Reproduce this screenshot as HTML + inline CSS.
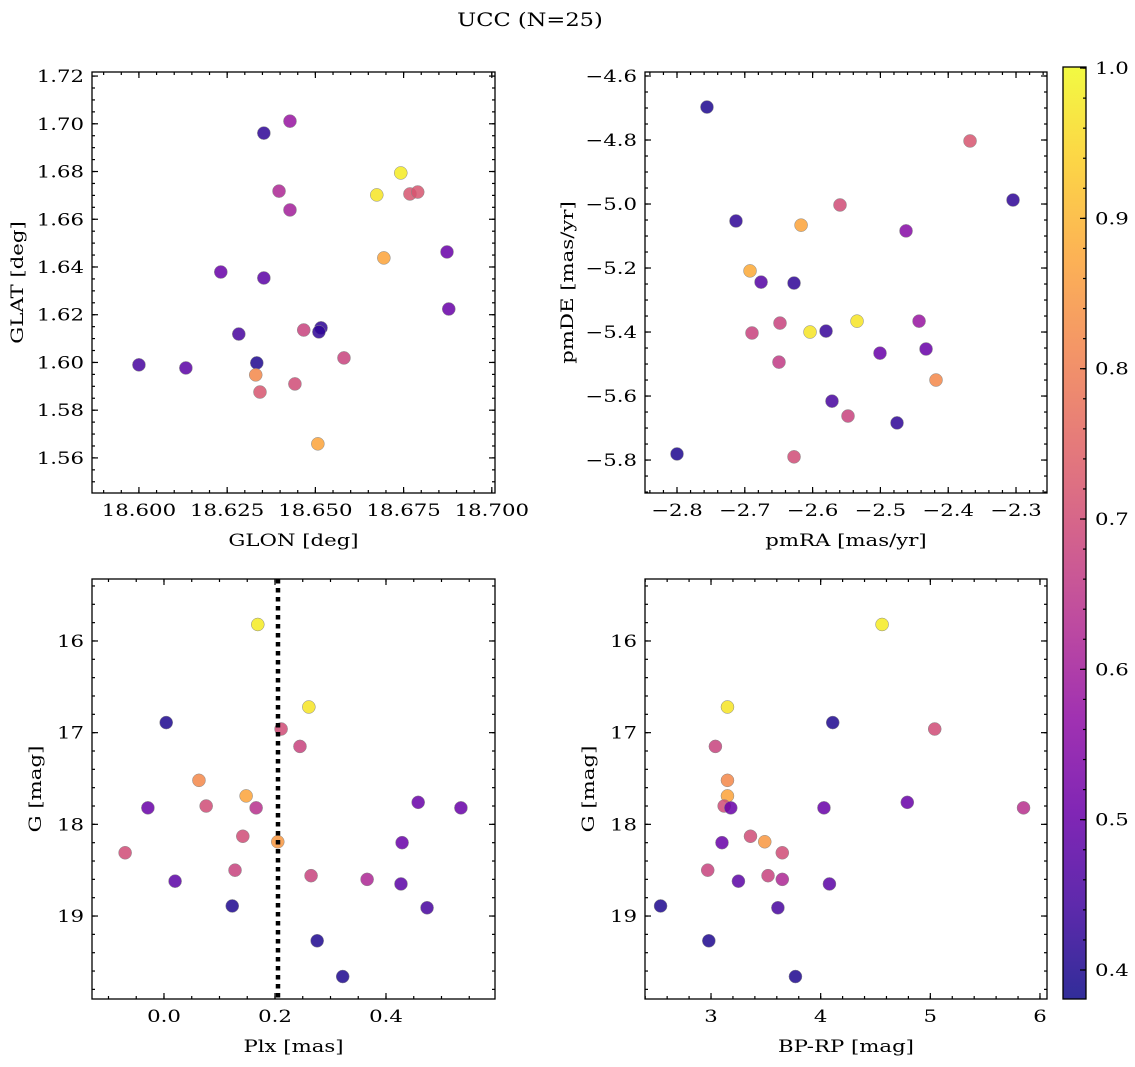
<!DOCTYPE html>
<html><head><meta charset="utf-8">
<style>
body{margin:0;background:#fff;}
svg{display:block;font-family:"DejaVu Serif","Liberation Serif",serif;}
</style></head>
<body>
<svg id="fig" width="1135" height="1067" viewBox="0 0 1135 1067" xmlns="http://www.w3.org/2000/svg">
<rect width="1135" height="1067" fill="#fff"/>
<text transform="translate(530 26) scale(1.22 1)" font-size="18.5" text-anchor="middle">UCC (N=25)</text>
</svg>
<script>
// Panel 1: GLON vs GLAT
const glon = [18.6354,18.6428,18.6742,18.6674,18.6397,18.6768,18.679,18.6428,18.6694,18.6873,18.6232,18.6354,18.6878,18.6467,18.6516,18.651,18.6283,18.6581,18.600,18.6334,18.6133,18.6331,18.6442,18.6343,18.6507];
const glat = [1.6961,1.7011,1.6794,1.6702,1.6718,1.6706,1.6714,1.6639,1.6438,1.6463,1.6379,1.6354,1.6224,1.6136,1.6145,1.6128,1.6119,1.6019,1.599,1.5998,1.5977,1.5948,1.591,1.5876,1.5659];
const probA = [0.42,0.58,0.98,0.97,0.62,0.72,0.72,0.6,0.87,0.5,0.5,0.48,0.5,0.68,0.42,0.42,0.45,0.68,0.45,0.4,0.48,0.82,0.7,0.72,0.87];
// Panel 2: pmRA vs pmDE
const pmra = [-2.7558,-2.3678,-2.3044,-2.5596,-2.713,-2.617,-2.4622,-2.6923,-2.676,-2.6274,-2.5345,-2.6481,-2.443,-2.6038,-2.6894,-2.5802,-2.5006,-2.4327,-2.418,-2.6496,-2.5714,-2.5478,-2.4755,-2.8,-2.6274];
const pmde = [-4.697,-4.803,-4.9875,-5.003,-5.053,-5.066,-5.084,-5.209,-5.244,-5.247,-5.366,-5.372,-5.366,-5.4,-5.403,-5.397,-5.466,-5.453,-5.55,-5.494,-5.616,-5.6625,-5.684,-5.781,-5.79];
const probB = [0.4,0.72,0.42,0.7,0.42,0.87,0.55,0.88,0.47,0.42,0.97,0.68,0.58,0.97,0.68,0.43,0.5,0.5,0.82,0.66,0.45,0.68,0.42,0.4,0.7];
// Panels 3/4: Plx, BP-RP vs G
const plx = [0.169,0.261,0.004,0.211,0.245,0.063,0.148,0.076,-0.029,0.166,0.458,0.535,0.142,0.205,0.429,-0.07,0.128,0.265,0.366,0.02,0.427,0.123,0.474,0.276,0.322];
const bprp = [4.56,3.15,4.11,5.04,3.04,3.15,3.15,3.12,3.18,5.85,4.79,4.03,3.36,3.49,3.10,3.65,2.97,3.52,3.65,3.25,4.08,2.54,3.61,2.98,3.77];
const gmag = [15.82,16.72,16.89,16.96,17.15,17.52,17.69,17.80,17.82,17.82,17.76,17.82,18.13,18.19,18.20,18.31,18.50,18.56,18.60,18.62,18.65,18.89,18.91,19.27,19.66];
const probC = [0.98,0.97,0.4,0.7,0.68,0.82,0.87,0.7,0.5,0.64,0.5,0.5,0.7,0.85,0.5,0.7,0.68,0.68,0.62,0.48,0.48,0.4,0.45,0.4,0.4];
const plxLine = [0.2054];

const NS="http://www.w3.org/2000/svg";
const svg=document.getElementById('fig');
const stops=[[0,13,8,135],[0.1,65,4,157],[0.2,106,0,168],[0.3,143,13,164],[0.4,177,42,144],[0.5,204,71,120],[0.6,225,100,98],[0.7,242,132,75],[0.8,252,166,54],[0.9,252,206,37],[1,240,249,33]];
function plasma(t){t=Math.max(0,Math.min(1,t));for(let i=1;i<stops.length;i++){if(t<=stops[i][0]){const a=stops[i-1],b=stops[i],f=(t-a[0])/(b[0]-a[0]);return `rgb(${Math.round(a[1]+f*(b[1]-a[1]))},${Math.round(a[2]+f*(b[2]-a[2]))},${Math.round(a[3]+f*(b[3]-a[3]))})`;}}return 'rgb(240,249,33)';}
const vmin=0.3807,vmax=1.0007;
const FS=17;
const SX=1.25;
function el(tag,attrs,parent){const e=document.createElementNS(NS,tag);for(const k in attrs)e.setAttribute(k,attrs[k]);(parent||svg).appendChild(e);return e;}
function txt(x,y,anchor,parent,rot){return el('text',{x:0,y:0,'font-size':FS,'text-anchor':anchor,transform:`translate(${x} ${y})${rot?' rotate(-90)':''} scale(${SX} 1)`},parent);}

function panel(name,box,xr,yr,xt,yt,xminor,yminor,xdec,ydec,xl,yl,yinv,yTitleX){
  const g=el('g',{});
  
  
  const sx=v=>box.x+(v-xr[0])/(xr[1]-xr[0])*box.w;
  const sy=v=>yinv?box.y+(v-yr[0])/(yr[1]-yr[0])*box.h:box.y+box.h-(v-yr[0])/(yr[1]-yr[0])*box.h;
  const tk=(x1,y1,x2,y2)=>el('line',{x1,y1,x2,y2,stroke:'#000','stroke-width':1.2},g);
  const b=box.y+box.h,r=box.x+box.w;
  for(let v=Math.ceil(xr[0]/xminor-1e-6)*xminor;v<=xr[1];v+=xminor){const x=sx(v);tk(x,b,x,b-3);tk(x,box.y,x,box.y+3);}
  for(let v=Math.ceil(yr[0]/yminor-1e-6)*yminor;v<=yr[1];v+=yminor){const y=sy(v);tk(box.x,y,box.x+3,y);tk(r,y,r-3,y);}
  xt.forEach(v=>{const x=sx(v);tk(x,b,x,b-6);tk(x,box.y,x,box.y+6);
    const t=txt(x,b+23,'middle',g);
    
    
    t.textContent=v.toFixed(xdec).replace('-','\u2212');});
  yt.forEach(v=>{const y=sy(v);tk(box.x,y,box.x+6,y);tk(r,y,r-6,y);
    const t=txt(box.x-8,y+6,'end',g);
    
    
    t.textContent=v.toFixed(ydec).replace('-','\u2212');});
  const xa=txt(box.x+box.w/2,b+53,'middle',g);
  
  
  xa.textContent=xl;
  const ya=txt(yTitleX,box.y+box.h/2,'middle',g,true);
  
  
  ya.textContent=yl;
  return {g,sx,sy,box};
}
function pts(p,xs,ys,ps){xs.forEach((v,i)=>{
  const c=el('circle',{cx:p.sx(v),cy:p.sy(ys[i]),r:6.5,fill:plasma((ps[i]-vmin)/(vmax-vmin)),'fill-opacity':0.85,stroke:'#888','stroke-width':0.5},p.g);
  
  });}
function frame(p){const f=el('rect',{x:p.box.x,y:p.box.y,width:p.box.w,height:p.box.h,fill:'none',stroke:'#000','stroke-width':1.3},p.g);
  
  }

const p1=panel('panel-glon-glat',{x:92,y:72,w:403,h:421},[18.5867,18.7009],[1.5453,1.7217],[18.6,18.625,18.65,18.675,18.7],[1.56,1.58,1.6,1.62,1.64,1.66,1.68,1.7,1.72],0.005,0.005,3,2,'GLON [deg]','GLAT [deg]',false,23);
pts(p1,glon,glat,probA);frame(p1);
const p2=panel('panel-pm',{x:645,y:72,w:402,h:421},[-2.8472,-2.2543],[-5.903,-4.5875],[-2.8,-2.7,-2.6,-2.5,-2.4,-2.3],[-5.8,-5.6,-5.4,-5.2,-5.0,-4.8,-4.6],0.02,0.05,1,1,'pmRA [mas/yr]','pmDE [mas/yr]',false,573);
pts(p2,pmra,pmde,probB);frame(p2);
const p3=panel('panel-plx-g',{x:92,y:579,w:403,h:420},[-0.1297,0.5964],[15.324,19.905],[0,0.2,0.4],[16,17,18,19],0.05,0.2,1,0,'Plx [mas]','G [mag]',true,41);
pts(p3,plx,gmag,probC);
plxLine.forEach(v=>{const l=el('line',{x1:p3.sx(v),x2:p3.sx(v),y1:579,y2:999,stroke:'#000','stroke-width':4.5,'stroke-dasharray':'4.5,4.5'},p3.g);
  
  });
frame(p3);
const p4=panel('panel-cmd',{x:645,y:579,w:402,h:420},[2.398,6.064],[15.324,19.905],[3,4,5,6],[16,17,18,19],0.2,0.2,0,0,'BP-RP [mag]','G [mag]',true,594);
pts(p4,bprp,gmag,probC);frame(p4);

// colorbar
const cb=el('g',{});


const defs=el('defs',{},cb);
const lg=el('linearGradient',{id:'cg',x1:0,y1:1,x2:0,y2:0},defs);
for(let i=0;i<=20;i++){const t=i/20;el('stop',{offset:t,'stop-color':plasma(t),'stop-opacity':0.85},lg);}
const cbx=1063,cby=67,cbw=23,cbh=932;
el('rect',{x:cbx,y:cby,width:cbw,height:cbh,fill:'url(#cg)',stroke:'#000','stroke-width':1.3},cb);
const cy=v=>cby+cbh-(v-vmin)/(vmax-vmin)*cbh;
for(let v=0.4;v<=1.0001;v+=0.02){el('line',{x1:cbx+cbw,x2:cbx+cbw-3,y1:cy(v),y2:cy(v),stroke:'#000','stroke-width':1.2},cb);}
[0.4,0.5,0.6,0.7,0.8,0.9,1.0].forEach(v=>{el('line',{x1:cbx+cbw,x2:cbx+cbw-6,y1:cy(v),y2:cy(v),stroke:'#000','stroke-width':1.2},cb);
  const t=txt(cbx+cbw+9,cy(v)+6,'start',cb);
  
  
  t.textContent=v.toFixed(1);});
</script>
</body></html>
